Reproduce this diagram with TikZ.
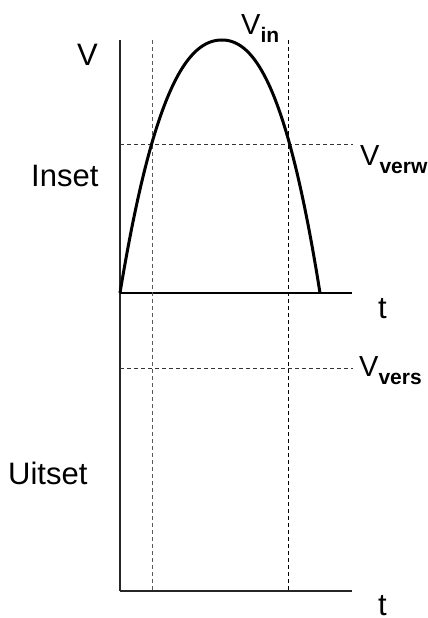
\documentclass[tikz,border=0pt]{standalone}
\usepackage{fontspec}
\setmainfont{Liberation Sans}
\begin{document}
\begin{tikzpicture}[x=1pt,y=-1pt,
  lbl/.style={anchor=base west,inner sep=0pt,font=\fontsize{31}{31}\selectfont},
  sublbl/.style={anchor=base west,inner sep=0pt,font=\fontsize{29}{29}\selectfont},
  axis/.style={line width=1.3pt,black!85},
  curve/.style={line width=3pt,line join=round},
  guide/.style={dashed,line width=1pt,dash pattern=on 4pt off 3pt}]
\useasboundingbox (0,0) rectangle (428,618);
\newcommand{\subtxt}[1]{\raisebox{-8pt}{\fontsize{21}{21}\selectfont\bfseries #1}}
% axes
\coordinate (vtop) at (120,40);
\coordinate (vbot) at (120,591);
\coordinate (x1l) at (120,293);
\coordinate (x1r) at (352,293);
\coordinate (x2l) at (120,591);
\coordinate (x2r) at (352,591);
\draw[axis] (vtop) -- (vbot);
\draw[line width=2pt] (x1l) -- (x1r);
\draw[axis] (x2l) -- (x2r);
% guides
\coordinate (g1t) at (152.7,40);
\coordinate (g1b) at (152.7,591);
\coordinate (g2t) at (288.3,40);
\coordinate (g2b) at (288.3,591);
\draw[guide,black!65] (g1t) -- (g1b);
\draw[guide] (g2t) -- (g2b);
\coordinate (h1l) at (120,144.3);
\coordinate (h1r) at (353,144.3);
\coordinate (h2l) at (120,368.3);
\coordinate (h2r) at (353,368.3);
\draw[guide,black!80] (h1l) -- (h1r);
\draw[guide,black!80] (h2l) -- (h2r);
% curve
\draw[curve] plot[domain=1:0,samples=90] ({222-102*\x},{40+253*(0.56*\x*\x+0.44*\x*\x*\x)})
  -- plot[domain=0:1,samples=90] ({222+98*\x},{40+253*(0.56*\x*\x+0.44*\x*\x*\x)});
% labels
\node[lbl] (lv) at (77,66) {V};
\node[sublbl] (lvin) at (241,35) {V\subtxt{in}};
\node[lbl] (linset) at (31,186) {Inset};
\node[lbl] (luitset) at (8,484) {Uitset};
\node[lbl] (lt1) at (378,318) {t};
\node[lbl] (lt2) at (378,615) {t};
\node[sublbl] (lverw) at (360,165) {V\subtxt{verw}};
\node[sublbl] (lvers) at (359,376) {V\subtxt{vers}};
\end{tikzpicture}
\end{document}
